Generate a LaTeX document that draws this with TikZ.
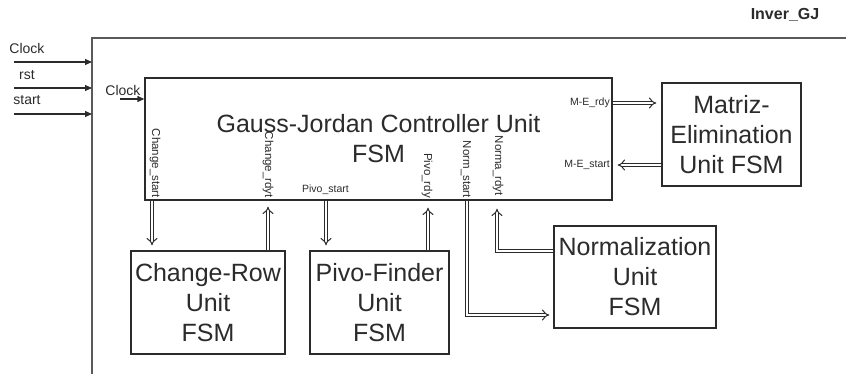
\documentclass[tikz,border=0pt]{standalone}
\usepackage{fontspec}
\setmainfont{Liberation Sans}
\usetikzlibrary{arrows.meta,positioning,calc}
\usepackage{xcolor}
\definecolor{Ink}{HTML}{2B2B2B}
\definecolor{Frame}{HTML}{5A5A5A}

\tikzset{
  unit/.style={draw=Ink,line width=1.3pt,inner sep=0pt,align=center,
    font=\fontsize{25}{30}\selectfont,text=Ink},
  bus/.style={draw=Ink,double,double distance=2.8pt,line width=1pt,
    -{Implies}},
  sig/.style={draw=Ink,line width=1.1pt,-{Triangle[length=7pt,width=6pt]}},
  tag/.style={font=\fontsize{10.5}{12}\selectfont,text=Ink,inner sep=1pt},
  vtag/.style={font=\fontsize{11.5}{13}\selectfont,text=Ink,inner sep=1pt,
    rotate=-90,anchor=east},
  pinlabel/.style={font=\fontsize{14}{16}\selectfont,text=Ink,inner sep=1pt},
}

\begin{document}
\begin{tikzpicture}[x=1pt,y=-1pt]
\useasboundingbox (0,0) rectangle (846,374);

% outer block
\node[font=\fontsize{16}{18}\selectfont\bfseries,text=Ink] (top) at (785,15) {Inver\_GJ};
\draw[Frame,line width=1.5pt] (846,38) -- (92,38) -- (92,374);
\coordinate (gjL) at (92,0);

% inputs
\node[pinlabel] (inclk) at (27,48) {Clock};
\node[pinlabel] (inrst) at (27,75) {rst};
\node[pinlabel] (instart) at (27,100) {start};
\coordinate (a1) at (14,62);
\coordinate (a2) at (14,88);
\coordinate (a3) at (14,114);
\draw[sig] (a1) -- (a1 -| gjL);
\draw[sig] (a2) -- (a2 -| gjL);
\draw[sig] (a3) -- (a3 -| gjL);

% units
\node[unit,minimum width=467pt,minimum height=122pt] (ctrl) at (378.5,139)
  {Gauss-Jordan Controller Unit\\FSM};
\node[unit,minimum width=139pt,minimum height=103pt] (mat) at (731.5,134.5)
  {Matriz-\\Elimination\\Unit FSM};
\node[unit,minimum width=154pt,minimum height=103pt] (chg) at (208,302.5)
  {Change-Row\\Unit\\FSM};
\node[unit,minimum width=139pt,minimum height=103pt] (pivo) at (379.5,302.5)
  {Pivo-Finder\\Unit\\FSM};
\node[unit,minimum width=162pt,minimum height=102pt] (norm) at (635,277)
  {Normalization\\Unit\\FSM};

% clock into controller
\node[pinlabel] (ctclk) at (123,90) {Clock};
\coordinate (a4) at (120,99);
\draw[sig] (a4) -- (a4 -| ctrl.west);

% matriz-elimination handshake
\node[tag,anchor=east] (merdy) at (611,103) {M-E\_rdy};
\node[tag,anchor=east] (mestart) at (611,165) {M-E\_start};
\draw[bus,shorten >=5pt] (ctrl.east |- merdy) -- (mat.west |- merdy);
\draw[bus,shorten >=5pt] (mat.west |- mestart) -- (ctrl.east |- mestart);

% change-row handshake
\coordinate (cs) at (152,0);
\coordinate (cr) at (268,0);
\node[vtag] (csl) at (155,199) {Change\_start};
\node[vtag] (crl) at (268,199) {Change\_rdyt};
\draw[bus,shorten >=5pt] (ctrl.south -| cs) -- (chg.north -| cs);
\draw[bus,shorten >=6pt] (chg.north -| cr) -- (ctrl.south -| cr);

% pivo-finder handshake
\coordinate (ps) at (326,0);
\coordinate (pr) at (428,0);
\node[tag] (psl) at (325.5,190) {Pivo\_start};
\node[vtag] (prl) at (427,199) {Pivo\_rdy};
\draw[bus,shorten >=5pt] (ctrl.south -| ps) -- (pivo.north -| ps);
\draw[bus,shorten >=7pt] (pivo.north -| pr) -- (ctrl.south -| pr);

% normalization handshake
\coordinate (ns) at (467,315);
\coordinate (nr) at (497,251);
\node[vtag] (nsl) at (466,199) {Norm\_start};
\node[vtag] (nrl) at (498,197) {Norma\_rdyt};
\draw[bus,shorten >=4pt] (ctrl.south -| ns) |- (norm.west |- ns);
\draw[bus,shorten >=8pt] (norm.west |- nr) -| (ctrl.south -| nr);
\end{tikzpicture}
\end{document}
